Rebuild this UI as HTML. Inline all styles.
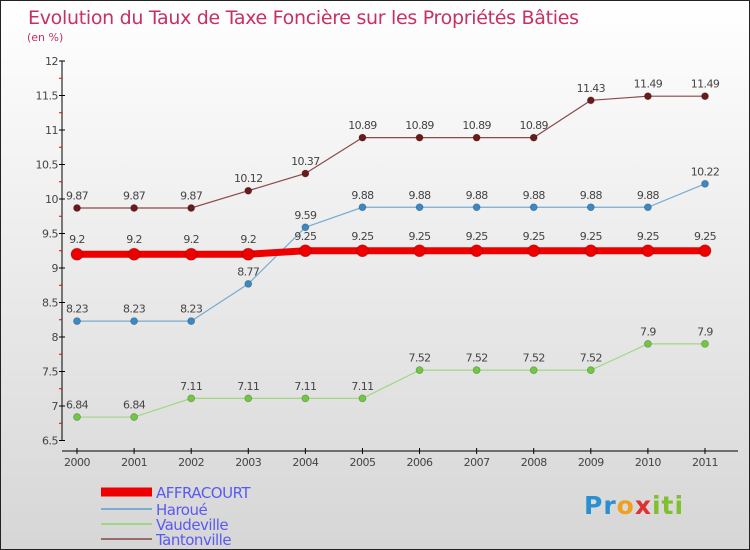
<!DOCTYPE html>
<html><head><meta charset="utf-8"><style>
body{margin:0;}
#c{width:748px;height:548px;border:1px solid #222;background:linear-gradient(#ffffff,#d6d6d6);position:relative;font-family:"DejaVu Sans","Liberation Sans",sans-serif;}
svg{position:absolute;left:0;top:0;}
</style></head><body>
<div id="c">
<svg id="s" width="748" height="548">
<text x="27" y="23" font-size="19" fill="#c8305f" style="letter-spacing:-0.3px">Evolution du Taux de Taxe Foncière sur les Propriétés Bâties</text>
<text x="26" y="40" font-size="11" fill="#c8305f">(en %)</text>
</svg>
<div style="position:absolute;left:583px;top:490px;font:bold 25px 'DejaVu Sans',sans-serif;letter-spacing:1px"><span style="color:#2a8fd0">Pr</span><span style="color:#f0a020">o</span><span style="color:#e03030">x</span><span style="color:#80c030">iti</span></div>
</div>
<script>
const years=[2000,2001,2002,2003,2004,2005,2006,2007,2008,2009,2010,2011];
const yTicks=[6.5,7,7.5,8,8.5,9,9.5,10,10.5,11,11.5,12];
const yTickLabels=["6.5","7","7.5","8","8.5","9","9.5","10","10.5","11","11.5","12"];
const affracourt=[9.2,9.2,9.2,9.2,9.25,9.25,9.25,9.25,9.25,9.25,9.25,9.25];
const haroue=[8.23,8.23,8.23,8.77,9.59,9.88,9.88,9.88,9.88,9.88,9.88,10.22];
const vaudeville=[6.84,6.84,7.11,7.11,7.11,7.11,7.52,7.52,7.52,7.52,7.9,7.9];
const tantonville=[9.87,9.87,9.87,10.12,10.37,10.89,10.89,10.89,10.89,11.43,11.49,11.49];
const NS="http://www.w3.org/2000/svg";
const svg=document.getElementById('s');
const X=i=>76+i*(628/11);
const Y=v=>60+(12-v)*69;
function el(t,a,p){const e=document.createElementNS(NS,t);for(const k in a)e.setAttribute(k,a[k]);(p||svg).appendChild(e);return e;}
// axes
let ya=el('line',{x1:61,y1:60,x2:61,y2:440,stroke:'#000','stroke-width':1});


let xa=el('line',{x1:61,y1:450,x2:737,y2:450,stroke:'#000','stroke-width':1});


yTicks.forEach((v,i)=>{
 el('line',{x1:58,y1:Y(v),x2:64,y2:Y(v),stroke:'#000'});
 if(i<yTicks.length-1) el('line',{x1:58,y1:Y(v+0.25),x2:61,y2:Y(v+0.25),stroke:'#e00'});
 const t=el('text',{x:57,y:Y(v)+4,'font-size':11,fill:'#444','text-anchor':'end','letter-spacing':'-0.5'});
 t.textContent=yTickLabels[i];
 
 
});
years.forEach((y,i)=>{
 el('line',{x1:X(i),y1:447,x2:X(i),y2:453,stroke:'#000'});
 const t=el('text',{x:X(i),y:465,'font-size':11,fill:'#444','text-anchor':'middle','letter-spacing':'-0.5'});
 t.textContent=y;
 
 
});
function series(data,color,dot,w,r,name){
 const g=el('g',{});
 
 
 const pl=el('polyline',{points:data.map((v,i)=>X(i)+','+Y(v)).join(' '),fill:'none',stroke:color,'stroke-width':w},g);
 data.forEach((v,i)=>{
  const c=el('circle',{cx:X(i),cy:Y(v),r:r,fill:dot,stroke:'rgba(0,0,0,0.25)','stroke-width':0.8},g);
  
  
  const t=el('text',{x:X(i),y:Y(v)-r-5,'font-size':11,fill:'#444','text-anchor':'middle','letter-spacing':'-0.6'},g);
  t.textContent=String(v);
  
  
 });
}
series(tantonville,'#8a4a4a','#6a1a1a',1.2,3.5,'tantonville');
series(haroue,'#78acd0','#3a88c4',1.2,3.5,'haroue');
series(vaudeville,'#a0d880','#70c840',1.2,3.5,'vaudeville');
series(affracourt,'#ee0000','#ee0000',7,6,'affracourt');
// legend
const leg=[['AFFRACOURT','#ee0000',9,491],['Haroué','#78acd0',2,508],['Vaudeville','#a0d880',2,523],['Tantonville','#9a6a6a',2,538]];
leg.forEach(l=>{
 const g=el('g',{});
 
 
 el('line',{x1:100,y1:l[3],x2:151,y2:l[3],stroke:l[1],'stroke-width':l[2]},g);
 const t=el('text',{x:155,y:l[3]+6,'font-size':15,fill:'#5a5af0','letter-spacing':'-0.5'},g);
 t.textContent=l[0];
});
</script>
</body></html>
